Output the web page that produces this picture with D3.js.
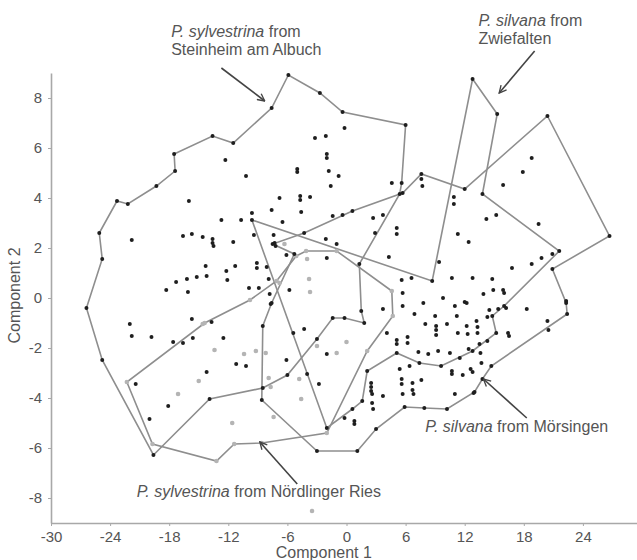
<!DOCTYPE html>
<html>
<head>
<meta charset="utf-8">
<script src="https://cdn.jsdelivr.net/npm/d3@7"></script>
<style>
body { margin: 0; background: #fff; }
text { font-family: "Liberation Sans", Arial, sans-serif; }
</style>
</head>
<body>
<div id="chart-area"></div>
<script>

// Tick values
var xTicks = [-30, -24, -18, -12, -6, 0, 6, 12, 18, 24];
var yTicks = [-8, -6, -4, -2, 0, 2, 4, 6, 8];

// Hull outlines (component 1, component 2)
var steinheimHull = [[-26.4,-0.4],[-24.8,1.56],[-25.1,2.6],[-23.3,3.88],[-22.2,3.76],[-19.3,4.48],[-17.4,5.08],[-17.5,5.76],
  [-13.6,6.48],[-11.5,6.2],[-7.6,7.6],[-5.9,8.92],[-2.7,8.2],[-0.4,7.44],[6.0,6.92],[5.6,4.6],[5.4,4.16],[1.3,1.36],
  [1.5,-0.52],[1.8,-1.0],[-0.2,-0.8],[-1.4,-0.8],[-3.0,-1.64],[-6.0,-3.08],[-8.5,-3.6],[-13.9,-4.04],[-19.6,-6.28],[-24.8,-2.48]];

var nordlingerHull = [[-22.3,-3.36],[-19.7,-5.84],[-13.2,-6.52],[-11.4,-5.84],[-8.6,-5.8],[-2.0,-5.4],[2.1,-2.12],[4.7,-0.72],
  [4.6,0.28],[-1.0,1.88],[-4.1,1.88],[-5.1,1.68],[-7.1,0.68],[-9.8,-0.08],[-14.4,-1.0]];

var zwiefaltenHull = [[12.8,8.76],[15.3,7.36],[13.8,4.16],[21.6,1.88],[16.0,-0.32],[14.8,-0.72],[15.2,-1.4],[12.8,-2.12],
  [9.6,-2.72],[7.4,-2.6],[5.1,-2.2],[2.1,-2.92],[1.6,-4.12],[0.6,-4.44],[-2.0,-5.2],[-9.6,3.12],[8.7,0.68]];

var morsingenHull = [[20.4,7.28],[26.7,2.48],[20.9,1.16],[22.3,-0.2],[22.4,-0.64],[14.7,-2.72],[13.8,-3.24],[13.0,-3.76],
  [10.2,-4.44],[7.9,-4.4],[5.9,-4.36],[3.0,-5.24],[1.1,-6.12],[-3.0,-6.12],[-8.6,-4.08],[-8.5,-1.12],[-7.6,-0.2],
  [-5.3,1.76],[-7.5,2.16],[-4.3,2.6],[0.6,3.48],[5.7,4.2],[7.6,4.96],[12.0,4.36]];

// Inner specimens
var steinheimPts = [[-12.3,5.52],[-10.2,4.88],[-5.0,5.16],[-5.0,5.04],[-16.0,3.88],[-6.8,4.0],[-4.7,4.08],[-4.7,3.92],[-3.7,4.04],
  [-7.6,3.52],[-4.6,3.44],[-12.7,3.12],[-10.7,3.12],[-6.5,3.04],[-9.6,3.4],[-21.8,2.32],[-16.6,2.48],[-15.7,2.56],[-14.6,2.44],
  [-13.6,2.36],[-13.6,2.2],[-13.5,2.08],[-11.5,2.24],[-9.4,2.52],[-7.4,2.52],[-7.3,2.2],[-7.2,2.08],[-14.3,1.28],[-14.2,0.88],
  [-12.2,1.08],[-11.3,1.28],[-9.1,1.4],[-9.1,1.2],[-8.1,1.24],[-12.1,0.72],[-6.1,1.72],[-17.3,0.64],[-16.2,0.76],[-15.2,0.84],
  [-18.3,0.32],[-16.1,0.24],[-9.9,0.4],[-8.9,0.4],[-7.9,0.76],[-7.8,0.16],[-5.8,0.32],[-7.7,-0.24],[-0.2,6.8],[-3.2,6.4],
  [-2.1,6.48],[-2.0,5.76],[-2.0,5.6],[-1.8,5.08],[-0.8,4.88],[-1.6,4.48],[4.6,4.6],[-1.4,3.28],[-0.4,3.32],[2.7,3.2],[3.7,3.32],
  [2.9,2.6],[5.1,2.8],[5.1,2.56],[-2.1,2.36],[-1.0,2.16],[-2.0,1.6],[4.3,1.64],[-22.0,-1.04],[-21.8,-1.52],[-19.8,-1.56],
  [-15.7,-0.84],[-13.7,-0.96],[-17.6,-1.76],[-16.6,-1.8],[-15.6,-1.6],[-12.5,-1.6],[-14.2,-2.96],[-11.2,-2.64],[-10.2,-2.72],
  [-5.4,-1.4],[-4.3,-1.24],[-6.1,-2.48],[-4.0,-3.04],[-21.4,-3.44],[-18.1,-4.32],[-20.0,-4.84],[-2.8,-3.44],[-2.0,-2.24],
  [-0.2,-4.8],[0.8,-4.92],[0.8,-5.04]];

var zwiefaltenPts = [[7.6,4.76],[7.7,4.48],[10.9,4.04],[10.9,3.76],[18.8,5.6],[17.9,5.04],[15.9,4.52],[14.2,3.16],[15.2,3.32],
  [19.5,2.96],[11.3,2.56],[12.4,2.24],[9.4,1.44],[16.8,1.2],[18.8,1.36],[19.8,1.6],[20.9,1.76],[5.6,0.72],[6.6,0.8],[10.7,0.8],
  [12.8,0.8],[14.8,0.76]];

var morsingenPts = [[5.7,0.2],[7.8,-0.2],[9.8,0.0],[12.0,-0.16],[13.9,0.16],[14.9,0.32],[15.9,0.32],[16.0,0.2],[16.2,-0.4],
  [18.3,-0.44],[22.3,-0.12],[5.7,-0.32],[3.7,-0.44],[11.0,-0.32],[20.4,-0.92],[20.5,-1.28],[4.1,-1.4],[5.1,-1.68],[5.1,-1.84],
  [6.2,-1.56],[6.2,-1.8],[6.9,-0.64],[9.0,-0.72],[9.1,-1.12],[9.1,-1.28],[9.1,-1.48],[10.2,-1.04],[11.2,-0.72],[11.3,-1.4],
  [12.2,-1.12],[12.3,-1.44],[13.2,-0.92],[13.3,-1.16],[13.3,-1.4],[8.0,-1.04],[14.3,-0.76],[15.4,-0.44],[16.4,-1.4],[16.5,-1.52],
  [7.3,-2.16],[8.3,-2.24],[9.3,-2.12],[10.5,-2.2],[11.5,-2.4],[12.4,-2.04],[13.5,-1.84],[13.6,-2.2],[13.7,-2.6],[14.3,-1.72],
  [12.6,-2.84],[12.8,-2.96],[10.7,-2.92],[10.7,-3.04],[5.4,-2.84],[6.4,-2.72],[5.6,-3.24],[5.6,-3.44],[6.7,-3.4],[6.7,-3.68],
  [7.6,-3.28],[5.7,-3.84],[6.8,-3.84],[3.7,-3.92],[2.5,-3.4],[2.5,-3.56],[2.5,-3.72],[2.6,-3.84],[2.6,-4.2],[2.7,-4.44],
  [11.0,-3.84],[11.8,-3.08],[12.9,-3.8],[14.5,-0.48],[12.2,-0.2]];

var nordlingerPts = [[-4.0,1.56],[-3.8,0.76],[-3.7,0.24],[-6.3,2.16],[-6.8,0.6],[-13.4,-2.08],[-10.4,-2.24],[-9.2,-2.12],
  [-8.2,-2.2],[-15.0,-3.32],[-17.1,-3.84],[-7.9,-3.2],[-7.7,-3.56],[-4.8,-3.24],[-4.6,-4.04],[-7.4,-4.76],[-11.6,-5.0],
  [-3.5,-8.52],[-14.6,-1.04],[-3.0,-1.92],[-1.0,-2.2],[0.0,-1.76]];

// Labels: text parts (italic flag), anchor in data units, arrow from / to
var labels = [
  {lines: [[["P. sylvestrina", true], [" from", false]], [["Steinheim am Albuch", false]]], at: [-17.8, 10.44], arrow: [[-12.7, 9.2], [-8.3, 7.88]]},
  {lines: [[["P. silvana", true], [" from", false]], [["Zwiefalten", false]]], at: [13.4, 10.88], arrow: [[19.1, 9.88], [15.5, 8.2]]},
  {lines: [[["P. silvana", true], [" from Mörsingen", false]]], at: [8.0, -5.36], arrow: [[18.3, -4.8], [13.9, -3.24]]},
  {lines: [[["P. sylvestrina", true], [" from Nördlinger Ries", false]]], at: [-21.3, -7.96], arrow: [[-5.0, -7.44], [-8.8, -5.76]]}
];

// SVG drawing area
var margin = {top: 73, right: 0, bottom: 37, left: 51};
var width = 591, height = 450;

var svg = d3.select("#chart-area").append("svg")
    .attr("width", 637)
    .attr("height", 560)
  .append("g")
    .attr("transform", "translate(" + margin.left + "," + margin.top + ")");

var x = d3.scaleLinear().domain([-30, 30]).range([0, width]);
var y = d3.scaleLinear().domain([-9, 9]).range([height, 0]);

// plain hyphen for negatives, like the original
var xAxis = d3.axisBottom(x).tickValues(xTicks).tickFormat(d => String(d))
    .tickSize(3).tickSizeOuter(0).tickPadding(5);
var yAxis = d3.axisLeft(y).tickValues(yTicks).tickFormat(d => String(d))
    .tickSize(3).tickSizeOuter(0).tickPadding(6);

var xAxisGroup = svg.append("g").attr("transform", "translate(0," + height + ")").call(xAxis);
var yAxisGroup = svg.append("g").call(yAxis);

[xAxisGroup, yAxisGroup].forEach(function(g) {
  g.select(".domain").attr("stroke", "#a8a8a8").attr("stroke-width", 1.6);
  g.selectAll(".tick line").attr("stroke", "#a8a8a8");
  g.selectAll(".tick text").attr("fill", "#555").style("font-size", "15px")
    .style("font-family", "'Liberation Sans', Arial, sans-serif");
});

svg.append("text")
    .attr("x", x(-2.3)).attr("y", height + 35)
    .attr("text-anchor", "middle").attr("fill", "#555").style("font-size", "16px")
    .text("Component 1");

svg.append("text")
    .attr("transform", "translate(" + (-31) + "," + y(0.1) + ") rotate(-90)")
    .attr("text-anchor", "middle").attr("fill", "#555").style("font-size", "16px")
    .text("Component 2");

// Hulls
var line = d3.line()
    .x(function(d) { return x(d[0]); })
    .y(function(d) { return y(d[1]); })
    .curve(d3.curveLinearClosed);

svg.append("g").selectAll("path")
    .data([steinheimHull, nordlingerHull, zwiefaltenHull, morsingenHull])
    .enter().append("path")
    .attr("d", line)
    .attr("fill", "none")
    .attr("stroke", "#8e8e8e")
    .attr("stroke-width", 1.6);

// Specimens
var black = steinheimPts.concat(zwiefaltenPts, morsingenPts, steinheimHull, zwiefaltenHull, morsingenHull);
var grey = nordlingerPts.concat(nordlingerHull);

svg.append("g").selectAll("circle")
    .data(grey).enter().append("circle")
    .attr("cx", d => x(d[0])).attr("cy", d => y(d[1]))
    .attr("r", 2.3).attr("fill", "#b4b4b4");

svg.append("g").selectAll("circle")
    .data(black).enter().append("circle")
    .attr("cx", d => x(d[0])).attr("cy", d => y(d[1]))
    .attr("r", 2.0).attr("fill", "#1e1e1e");

// Annotations
svg.append("defs").append("marker")
    .attr("id", "arrow").attr("viewBox", "0 0 10 10")
    .attr("refX", 9).attr("refY", 5)
    .attr("markerWidth", 9).attr("markerHeight", 9)
    .attr("markerUnits", "userSpaceOnUse").attr("orient", "auto")
  .append("path")
    .attr("d", "M1,1 L9,5 L1,9")
    .attr("fill", "none").attr("stroke", "#444").attr("stroke-width", 1.5);

labels.forEach(function(l) {
  svg.append("line")
      .attr("x1", x(l.arrow[0][0])).attr("y1", y(l.arrow[0][1]))
      .attr("x2", x(l.arrow[1][0])).attr("y2", y(l.arrow[1][1]))
      .attr("stroke", "#444").attr("stroke-width", 1.6)
      .attr("marker-end", "url(#arrow)");

  var t = svg.append("text")
      .attr("x", x(l.at[0])).attr("y", y(l.at[1]))
      .attr("fill", "#555").style("font-size", "16px");
  l.lines.forEach(function(parts, i) {
    parts.forEach(function(p, j) {
      var ts = t.append("tspan").text(p[0]).style("font-style", p[1] ? "italic" : "normal");
      if (j == 0) ts.attr("x", x(l.at[0])).attr("dy", i == 0 ? 0 : 18);
    });
  });
});

</script>
</body>
</html>
